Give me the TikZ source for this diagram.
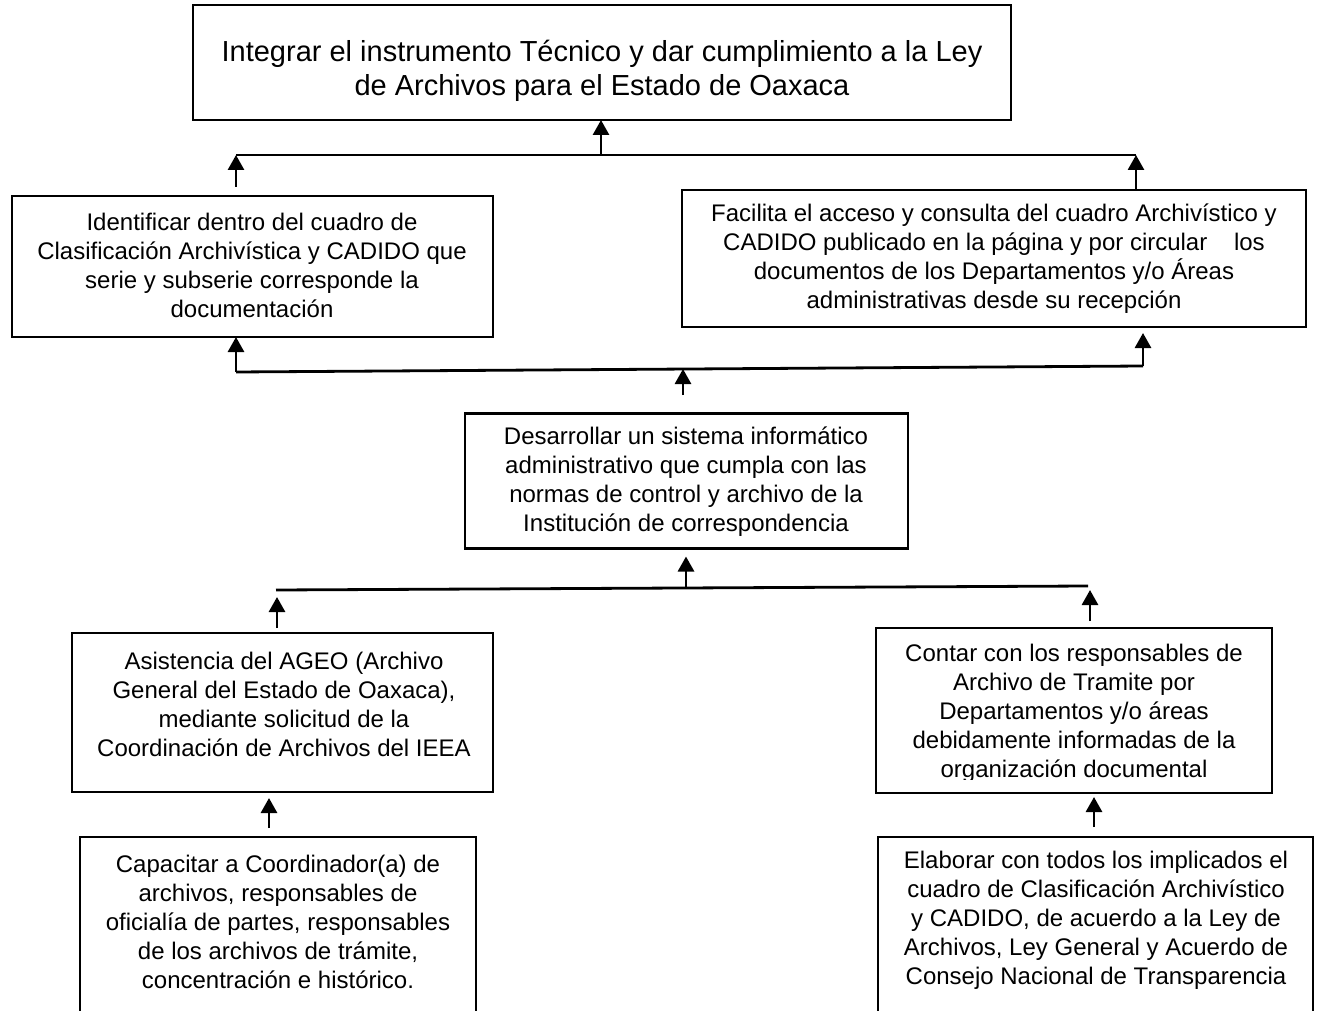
\documentclass[tikz,border=0pt]{standalone}
\usepackage{fontspec}
\setmainfont{Liberation Sans}
\usetikzlibrary{arrows.meta}
\begin{document}
\begin{tikzpicture}[x=1pt,y=-1pt,
  frame/.style={draw, line width=2.5pt, inner sep=0pt, outer sep=0pt},
  txt/.style={align=center, inner sep=0pt, font=\fontsize{24}{29}\selectfont},
  bigtxt/.style={align=center, inner sep=0pt, font=\fontsize{29}{34}\selectfont},
  conn/.style={line width=2.8pt},
  arr/.style={line width=2.8pt, -{Triangle[width=16pt,length=15pt]}},
  openframe/.style={line width=2.5pt}
]
\useasboundingbox (0,0) rectangle (1318,1011);

% ---- boxes ----
\node[frame, minimum width=818pt, minimum height=115pt] (top) at (602,62.5) {};
\node[bigtxt] (topT) at (602,71) {Integrar el instrumento Técnico y dar cumplimiento a la Ley\\de Archivos para el Estado de Oaxaca};

\node[frame, minimum width=481pt, minimum height=141pt] (ident) at (252.5,266.5) {};
\node[txt] (identT) at (252,265) {Identificar dentro del cuadro de\\Clasificación Archivística y CADIDO que\\serie y subserie corresponde la\\documentación};

\node[frame, minimum width=624pt, minimum height=137pt] (facil) at (994,258.5) {};
\node[txt] (facilT) at (994,258.5) {Facilita el acceso y consulta del cuadro Archivístico y\\CADIDO publicado en la página y por circular\ \ \ \ los\\documentos de los Departamentos y/o Áreas\\administrativas desde su recepción};

\node[frame, minimum width=443pt, minimum height=135pt] (desar) at (686.5,481) {};
\node[txt] (desarT) at (686,482) {Desarrollar un sistema informático\\administrativo que cumpla con las\\normas de control y archivo de la\\Institución de correspondencia};

\node[frame, minimum width=421pt, minimum height=159pt] (asist) at (282.5,712.5) {};
\node[txt] (asistT) at (284,704) {Asistencia del AGEO (Archivo\\General del Estado de Oaxaca),\\mediante solicitud de la\\Coordinación de Archivos del IEEA};

\node[frame, minimum width=396pt, minimum height=165pt] (contar) at (1074,710.5) {};
\begin{scope}
  \clip (877,630) rectangle (1271,779);
  \node[txt] (contarT) at (1074,713) {Contar con los responsables de\\Archivo de Tramite por\\Departamentos y/o áreas\\debidamente informadas de la\\organización documental};
\end{scope}

% lowest boxes run past the bottom edge
\draw[openframe] (80,1011) -- (80,837) -- (476,837) -- (476,1011);
\node[txt] (capacT) at (278,921.5) {Capacitar a Coordinador(a) de\\archivos, responsables de\\oficialía de partes, responsables\\de los archivos de trámite,\\concentración e histórico.};

\draw[openframe] (878,1011) -- (878,837) -- (1313,837) -- (1313,1011);
\node[txt] (elabT) at (1096,920) {Elaborar con todos los implicados el\\cuadro de Clasificación Archivístico\\y CADIDO, de acuerdo a la Ley de\\Archivos, Ley General y Acuerdo de\\Consejo Nacional de Transparencia};

% ---- first junction ----
\coordinate (j1L) at (236,155);
\coordinate (j1C) at (601,155);
\coordinate (j1R) at (1136,155);
\coordinate (t1L) at (236,187);
\coordinate (t1R) at (1136,189);
\draw[conn] (j1L) -- (j1R);
\draw[arr] (j1C) -- (j1C |- top.south);
\draw[arr] (t1L) -- (j1L);
\draw[arr] (t1R) -- (j1R);

% ---- second junction ----
\coordinate (j2L) at (236,372);
\coordinate (j2R) at (1143,366);
\coordinate (j2C) at (683,369);
\coordinate (t2C) at (683,395);
\draw[conn] (j2L) -- (j2R);
\draw[arr] (j2L) -- (j2L |- ident.south);
\draw[arr] (j2R) -- ([yshift=-6pt]j2R |- facil.south);
\draw[arr] (t2C) -- (j2C);

% ---- third junction ----
\coordinate (j3L) at (276,590);
\coordinate (j3R) at (1088,586);
\coordinate (j3C) at (686,588);
\coordinate (t3L) at (277,628);
\coordinate (h3L) at (277,597);
\coordinate (t3R) at (1090,621);
\coordinate (h3R) at (1090,590);
\draw[conn] (j3L) -- (j3R);
\draw[arr] (j3C) -- ([yshift=-8pt]j3C |- desar.south);
\draw[arr] (t3L) -- (h3L);
\draw[arr] (t3R) -- (h3R);

% ---- lowest arrows ----
\coordinate (t4L) at (269,828);
\coordinate (h4L) at (269,798);
\coordinate (t4R) at (1094,827);
\coordinate (h4R) at (1094,797);
\draw[arr] (t4L) -- (h4L);
\draw[arr] (t4R) -- (h4R);
\end{tikzpicture}
\end{document}
